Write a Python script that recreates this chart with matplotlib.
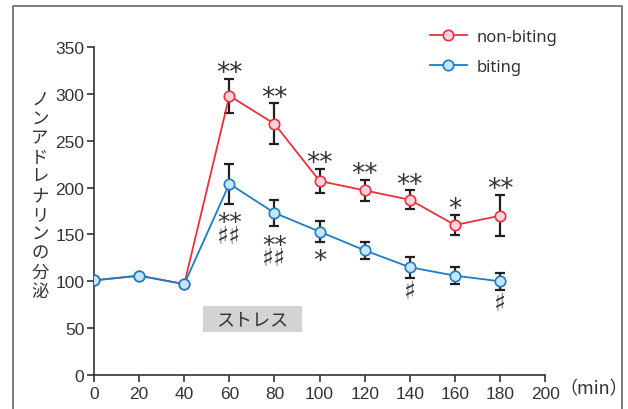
import matplotlib
matplotlib.use("Agg")
import matplotlib.pyplot as plt
from matplotlib.patches import Rectangle
from matplotlib.lines import Line2D

plt.rcParams["font.family"] = ["Noto Sans CJK JP", "DejaVu Sans"]

# data
minutes = [0, 20, 40, 60, 80, 100, 120, 140, 160, 180]
non_biting = [101, 106, 97, 298, 268, 207, 197, 187, 160, 170]
non_biting_err = [0, 0, 0, 18, 22, 13, 11, 10, 11, 22]
biting = [101, 106, 97, 204, 173, 153, 133, 115, 106, 100]
biting_err = [0, 0, 0, 21, 14, 11, 9, 11, 9, 9]
# significance marks (above non-biting, below biting)
nb_marks = ["", "", "", "**", "**", "**", "**", "**", "*", "**"]
b_marks = ["", "", "", "**\n♯♯", "**\n♯♯", "*", "", "♯", "", "♯"]
x_ticks = list(range(0, 201, 20))
y_ticks = list(range(0, 351, 50))

red = "#e8313b"
red_face = "#fbd3de"
blue = "#1d7cc3"
blue_face = "#c6e6f7"
dark = "#333333"
mark_font = ["DejaVu Sans"]

fig = plt.figure(figsize=(6.28, 4.10), dpi=100)
ax = fig.add_axes([0.1497, 0.0829, 0.7185, 0.8000])

# outer frame (left, top, right)
fig.add_artist(Line2D([13 / 628, 13 / 628, 622 / 628, 622 / 628],
                      [0, 1 - 7 / 410, 1 - 7 / 410, 0],
                      transform=fig.transFigure, color="#666666", lw=1.2))

# error bars
ax.errorbar(minutes[3:], non_biting[3:], yerr=non_biting_err[3:], fmt="none",
            ecolor="#231f20", elinewidth=1.6, capsize=3.5, capthick=1.6, zorder=2)
ax.errorbar(minutes[3:], biting[3:], yerr=biting_err[3:], fmt="none",
            ecolor="#231f20", elinewidth=1.6, capsize=3.5, capthick=1.6, zorder=2)

ax.plot(minutes, non_biting, color=red, lw=1.3, marker="o", ms=7.5,
        mfc=red_face, mec=red, mew=1.2, zorder=3, label="non-biting")
ax.plot(minutes, biting, color=blue, lw=1.3, marker="o", ms=7.5,
        mfc=blue_face, mec=blue, mew=1.2, zorder=4, label="biting")

# DejaVu '*' sits high in the em box, so anchor by center and nudge
for x, y, e, m in zip(minutes, non_biting, non_biting_err, nb_marks):
    if m:
        ax.text(x, y + e + 6, m, ha="center", va="center", fontsize=19,
                family=mark_font, color=dark)
for x, y, e, m in zip(minutes, biting, biting_err, b_marks):
    if not m:
        continue
    if "\n" in m:
        ax.text(x, y - e - 27, m, ha="center", va="center", fontsize=18,
                family=mark_font, color=dark, linespacing=0.45)
    elif m == "*":
        ax.text(x, y - e - 20, m, ha="center", va="center", fontsize=19,
                family=mark_font, color=dark)
    else:
        ax.text(x, y - e - 14, m, ha="center", va="center", fontsize=18,
                family=mark_font, color=dark)

# stress box
ax.add_patch(Rectangle((48.3, 46), 43.9, 27.6, facecolor="#d2d3d5",
                       edgecolor="none", zorder=1))
ax.text(70.2, 59.8, "ストレス", ha="center", va="center", fontsize=13,
        color=dark)

ax.set_xlim(0, 200)
ax.set_ylim(0, 350)
ax.set_xticks(x_ticks)
ax.set_yticks(y_ticks)
ax.spines["top"].set_visible(False)
ax.spines["right"].set_visible(False)
for s in ("left", "bottom"):
    ax.spines[s].set_color(dark)
    ax.spines[s].set_linewidth(1.2)
ax.tick_params(direction="out", length=5, width=1.2, color=dark,
               labelcolor=dark, labelsize=12.5)
for lab in ax.get_xticklabels() + ax.get_yticklabels():
    lab.set_family(["Liberation Sans Narrow", "Liberation Sans", "DejaVu Sans"])
ax.tick_params(axis="y", pad=2)
ax.tick_params(axis="x", pad=3)

ax.text(206.5, -14.5, "（min）", ha="left", va="center", fontsize=13,
        color=dark, clip_on=False)

ylabel = "ノンアドレナリンの分泌"
fig.text(40 / 628, 1 - 196 / 410, "\n".join(ylabel), ha="center",
         va="center", fontsize=12.5, color=dark, linespacing=1.08)

leg = ax.legend(loc="upper left", bbox_to_anchor=(415 / 628, 1 - 15 / 410),
                bbox_transform=fig.transFigure, frameon=False,
                handlelength=2.2, labelspacing=0.85, handletextpad=0.6,
                prop={"family": ["Noto Sans", "DejaVu Sans"], "size": 12})
for t in leg.get_texts():
    t.set_color(dark)

fig.savefig("out.png", dpi=100)
